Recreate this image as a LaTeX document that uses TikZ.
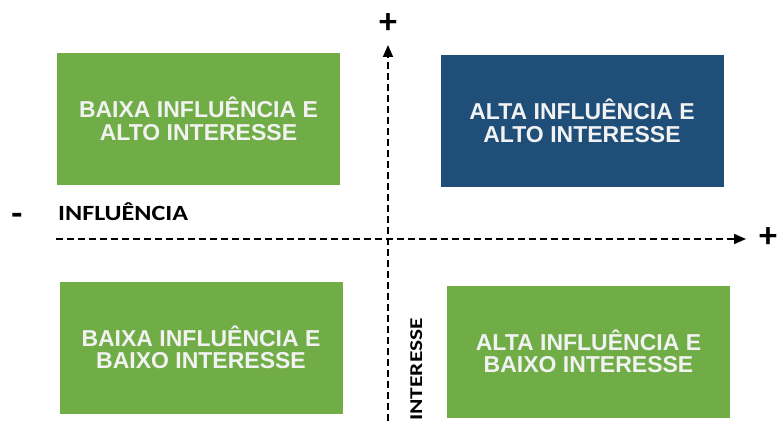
\documentclass[tikz,border=0pt]{standalone}
\usepackage{fontspec}
\setmainfont{Liberation Sans}
\newfontfamily\calib{Carlito}
\usetikzlibrary{arrows.meta}
\definecolor{verde}{RGB}{112,173,71}
\definecolor{azul}{RGB}{31,78,121}
\definecolor{texto}{RGB}{242,242,242}

\begin{document}
\begin{tikzpicture}[x=1pt,y=-1pt,
  caixa/.style={minimum width=283pt,minimum height=132pt,inner sep=0pt,
    text=texto,align=center,font=\fontsize{23}{22.5}\selectfont\bfseries},
  eixo/.style={line width=1.8pt,dash pattern=on 7pt off 4pt,
    -{Triangle[length=12pt,width=10pt]}},
  rotulo/.style={inner sep=0pt,font=\fontsize{21.7}{24}\calib\bfseries},
  sinal/.style={inner sep=0pt,font=\fontsize{36}{36}\calib\bfseries}]
\useasboundingbox (0,0) rectangle (779,425);

\coordinate (XA) at (56,239);
\coordinate (XB) at (746,239);
\coordinate (YA) at (388,432);
\coordinate (YB) at (388,45);

\node[caixa,fill=verde] (BA) at (198.5,119) {BAIXA INFLUÊNCIA E\\ALTO INTERESSE};
\node[caixa,fill=azul] (AA) at (582,121) {ALTA INFLUÊNCIA E\\ALTO INTERESSE};
\node[caixa,fill=verde] (BB) at (201,347.5) {BAIXA INFLUÊNCIA E\\BAIXO INTERESSE};
\node[caixa,fill=verde] (AB) at (588.5,351.5) {ALTA INFLUÊNCIA E\\BAIXO INTERESSE};

\draw[eixo] (XA) -- (XB);
\draw[eixo] (YA) -- (YB);

\node[rotulo,anchor=base west] (INF) at (58,220) {\scalebox{1.2}[1]{INFLUÊNCIA}};
\node[rotulo,font=\fontsize{18}{20}\calib\bfseries,rotate=90,anchor=base east] (INT) at (422,318)
  {\scalebox{1.3}[1]{INTERESSE}};

\node[sinal] (MENOS) at (17,219) {-};
\node[sinal] (MAISY) at (388,24) {+};
\node[sinal] (MAISX) at (768,238) {+};
\end{tikzpicture}
\end{document}
